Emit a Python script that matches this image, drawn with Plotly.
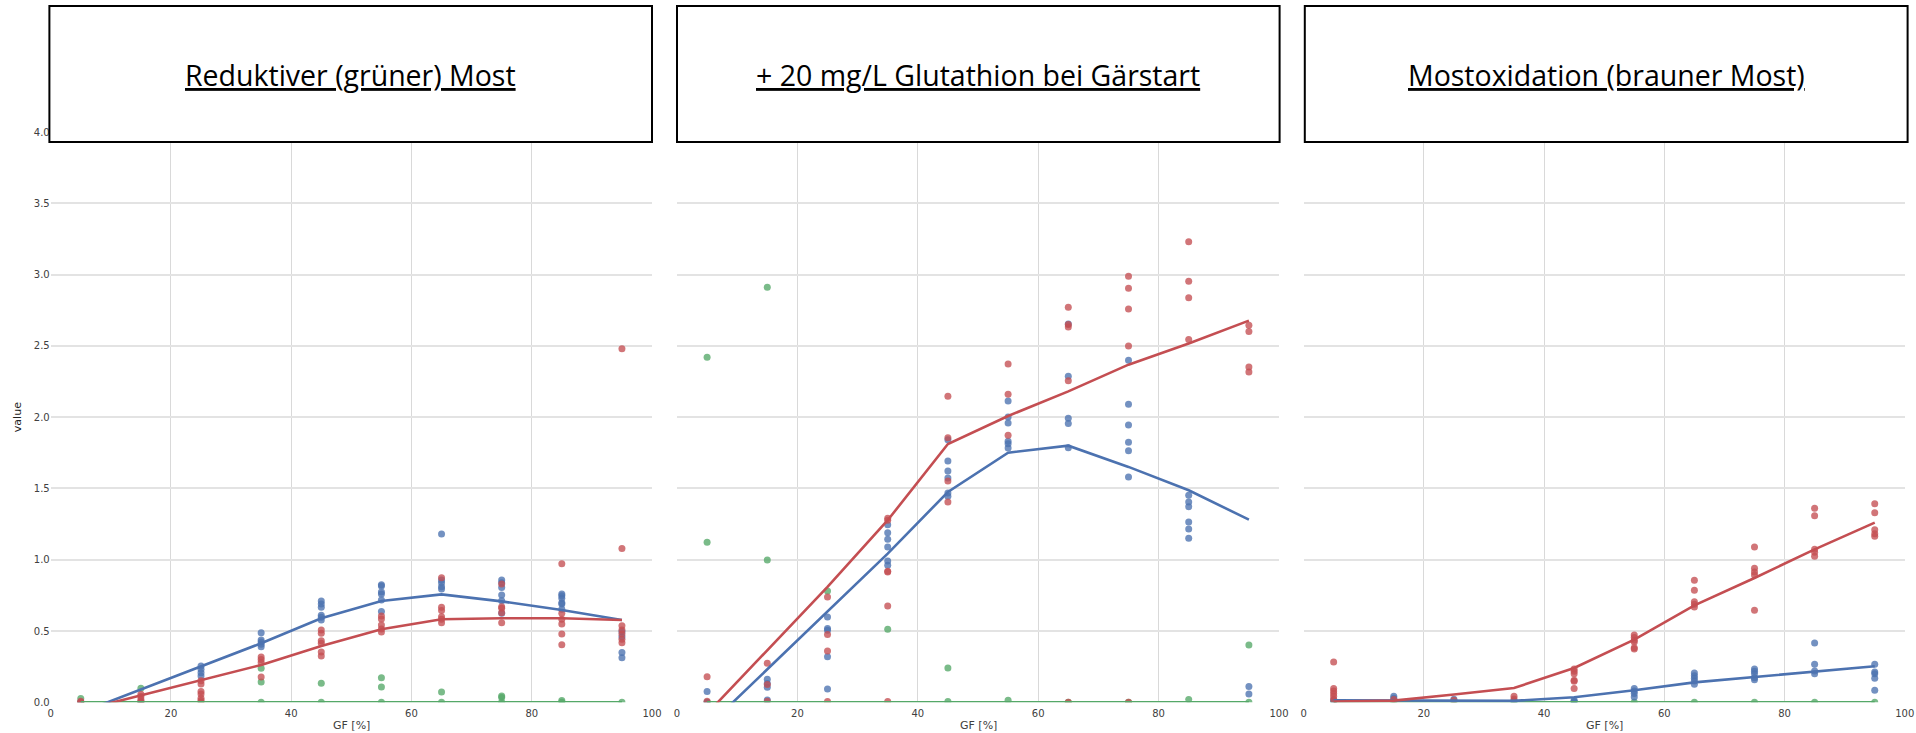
import plotly.graph_objects as go
from plotly.subplots import make_subplots

# ---------------- data ----------------
X_LEVELS = [5, 15, 25, 35, 45, 55, 65, 75, 85, 95]
TITLES = ["Reduktiver (grüner) Most", "+ 20 mg/L Glutathion bei Gärstart", "Mostoxidation (brauner Most)"]
Y_TICKS = [0.0, 0.5, 1.0, 1.5, 2.0, 2.5, 3.0, 3.5, 4.0]
X_TICKS = [0, 20, 40, 60, 80, 100]
X_TITLE = "GF [%]"
Y_TITLE = "value"

# Panel 1: Reduktiver (grüner) Most  (one list of replicate values per GF level)
P1_RED = [[0.007, 0.0], [0.056, 0.04, 0.02, 0.005], [0.152, 0.128, 0.075, 0.058, 0.028, 0.012],
          [0.318, 0.301, 0.28, 0.178], [0.507, 0.484, 0.432, 0.414, 0.353, 0.325],
          [0.605, 0.584, 0.542, 0.514, 0.493], [0.874, 0.666, 0.643, 0.6, 0.582, 0.558],
          [0.829, 0.671, 0.659, 0.628, 0.558], [0.972, 0.624, 0.582, 0.549, 0.479, 0.404],
          [2.48, 1.079, 0.537, 0.507, 0.479, 0.442, 0.418]]
P1_BLUE = [[0.0], [0.0], [0.255, 0.231, 0.208, 0.185], [0.488, 0.437, 0.423, 0.407, 0.39],
           [0.71, 0.689, 0.666, 0.61, 0.596, 0.577], [0.825, 0.815, 0.773, 0.759, 0.717, 0.636],
           [1.18, 0.857, 0.839, 0.811, 0.794], [0.857, 0.839, 0.806, 0.752, 0.712, 0.624],
           [0.759, 0.748, 0.729, 0.699, 0.689, 0.652], [0.495, 0.46, 0.35, 0.313]]
P1_GREEN = [[0.026, 0.0], [0.098, 0.0], [0.0], [0.238, 0.143, 0.0], [0.133, 0.0],
            [0.173, 0.107, 0.0], [0.072, 0.0], [0.044, 0.033, 0.0], [0.012, 0.0], [0.0]]
P1_RED_LINE = [-0.058, 0.049, 0.152, 0.262, 0.395, 0.512, 0.582, 0.589, 0.589, 0.577]
P1_BLUE_LINE = [-0.072, 0.091, 0.255, 0.414, 0.589, 0.71, 0.757, 0.708, 0.647, 0.577]
P1_GREEN_LINE = [0, 0, 0, 0, 0, 0, 0, 0, 0, 0]

# Panel 2: + 20 mg/L Glutathion bei Gärstart
P2_RED = [[0.18, 0.007], [0.274, 0.124, 0.007], [0.739, 0.475, 0.36, 0.005],
          [1.291, 1.277, 0.919, 0.914, 0.676, 0.005], [2.146, 1.856, 1.552, 1.405],
          [2.373, 2.16, 1.873], [2.771, 2.649, 2.633, 2.256, 0.0], [2.988, 2.904, 2.759, 2.499, 0.0],
          [3.231, 2.953, 2.838, 2.544], [2.644, 2.6, 2.352, 2.317]]
P2_BLUE = [[0.075, 0.0], [0.161, 0.131, 0.105, 0.016], [0.599, 0.517, 0.505, 0.32, 0.094],
           [1.246, 1.19, 1.143, 1.09, 0.991, 0.961], [1.842, 1.693, 1.623, 1.574, 1.468, 1.445],
           [2.114, 2.001, 1.959, 1.831, 1.814, 1.784], [2.654, 2.287, 1.992, 1.955, 1.786],
           [2.399, 2.09, 1.945, 1.824, 1.765, 1.581], [1.452, 1.405, 1.372, 1.265, 1.216, 1.15],
           [0.11, 0.058]]
P2_GREEN = [[2.42, 1.122, 0.0], [2.911, 0.998], [0.781], [0.512], [0.241, 0.005],
            [0.014], [0.0], [0.0], [0.019], [0.402, 0.0]]
P2_RED_LINE = [-0.079, 0.365, 0.809, 1.277, 1.812, 2.008, 2.181, 2.368, 2.516, 2.677]
P2_BLUE_LINE = [-0.174, 0.23, 0.634, 1.043, 1.475, 1.751, 1.8, 1.651, 1.487, 1.281]
P2_GREEN_LINE = [0, 0, 0, 0, 0, 0, 0, 0, 0, 0]

# Panel 3: Mostoxidation (brauner Most)
P3_RED = [[0.283, 0.096, 0.079, 0.061, 0.042, 0.021], [0.019], [0.015], [0.042, 0.023],
          [0.234, 0.217, 0.201, 0.154, 0.147, 0.096], [0.472, 0.454, 0.435, 0.423, 0.383, 0.374],
          [0.856, 0.786, 0.706, 0.687, 0.669], [1.09, 0.94, 0.914, 0.893, 0.645],
          [1.361, 1.309, 1.073, 1.052, 1.024], [1.393, 1.33, 1.211, 1.183, 1.164]]
P3_BLUE = [[0.014], [0.042, 0.028], [0.021], [0.01], [0.014, 0.005], [0.096, 0.079, 0.061, 0.037],
           [0.206, 0.187, 0.168, 0.15, 0.126], [0.234, 0.217, 0.201, 0.173, 0.159],
           [0.416, 0.267, 0.22, 0.201], [0.267, 0.213, 0.201, 0.168, 0.084]]
P3_GREEN = [[0.0], [0.0], [0.0], [0.0], [0.0], [0.0], [0.0], [0.0], [0.0], [0.0]]
P3_RED_LINE = [0.005, 0.012, 0.055, 0.1, 0.241, 0.44, 0.68, 0.872, 1.073, 1.26]
P3_BLUE_LINE = [0.014, 0.012, 0.01, 0.01, 0.035, 0.084, 0.14, 0.178, 0.215, 0.253]
P3_GREEN_LINE = [0, 0, 0, 0, 0, 0, 0, 0, 0, 0]

# ---------------- style ----------------
W, H = 1916, 733
RED, BLUE, GREEN = "#C44E52", "#4C72B0", "#55A868"
PANEL_PX = [(50.7, 652.0), (677.0, 1279.0), (1303.6, 1904.8)]
BOX_PX = [(49.4, 652.0), (677.0, 1279.6), (1304.8, 1907.6)]
PLOT_TOP, PLOT_BOTTOM = 132.0, 702.3
BOX_TOP, BOX_BOTTOM = 6.0, 142.0

def flat(groups):
    xs, ys = [], []
    for xv, vals in zip(X_LEVELS, groups):
        for v in vals:
            xs.append(xv)
            ys.append(v)
    return xs, ys

panels = [
    (P1_RED, P1_BLUE, P1_GREEN, P1_RED_LINE, P1_BLUE_LINE, P1_GREEN_LINE),
    (P2_RED, P2_BLUE, P2_GREEN, P2_RED_LINE, P2_BLUE_LINE, P2_GREEN_LINE),
    (P3_RED, P3_BLUE, P3_GREEN, P3_RED_LINE, P3_BLUE_LINE, P3_GREEN_LINE),
]

fig = make_subplots(rows=1, cols=3, shared_yaxes=True)

for i, (red, blue, green, rl, bl, gl) in enumerate(panels):
    col = i + 1
    for grp, c in ((green, GREEN), (blue, BLUE), (red, RED)):
        xs, ys = flat(grp)
        fig.add_trace(go.Scatter(x=xs, y=ys, mode="markers",
                                 marker=dict(color=c, size=7, opacity=0.78, line=dict(width=0)),
                                 showlegend=False, hoverinfo="skip"), row=1, col=col)
    for ln, c in ((gl, GREEN), (bl, BLUE), (rl, RED)):
        fig.add_trace(go.Scatter(x=X_LEVELS, y=ln, mode="lines",
                                 line=dict(color=c, width=2.6),
                                 showlegend=False, hoverinfo="skip"), row=1, col=col)

y0 = (H - PLOT_BOTTOM) / H
y1 = (H - PLOT_TOP) / H
tick_font = dict(family="DejaVu Sans", size=10, color="#404040")

for i in range(3):
    xa = "xaxis" if i == 0 else f"xaxis{i + 1}"
    ya = "yaxis" if i == 0 else f"yaxis{i + 1}"
    l, r = PANEL_PX[i]
    fig.layout[xa].update(domain=[l / W, r / W], range=[0, 100], tickvals=X_TICKS,
                          ticktext=[str(t) for t in X_TICKS], showgrid=True,
                          gridcolor="#d9d9d9", gridwidth=1, zeroline=False, showline=False,
                          ticks="", ticklabelstandoff=4, tickfont=tick_font, automargin=False)
    fig.layout[ya].update(domain=[y0, y1], range=[0, 4], tickvals=Y_TICKS,
                          ticktext=[f"{t:.1f}" for t in Y_TICKS], showgrid=True,
                          gridcolor="#e3e3e3", gridwidth=1.6, zeroline=False, showline=False,
                          ticks="", tickfont=tick_font, showticklabels=(i == 0), automargin=False)
    # x-axis title below each panel
    fig.add_annotation(xref="paper", yref="paper", x=(l + r) / 2 / W, y=(H - 725) / H,
                       text=X_TITLE, showarrow=False, xanchor="center", yanchor="middle",
                       font=dict(family="DejaVu Sans", size=11, color="#404040"))

# y-axis title
fig.add_annotation(xref="paper", yref="paper", x=17 / W, y=(H - (PLOT_TOP + PLOT_BOTTOM) / 2) / H,
                   text=Y_TITLE, textangle=-90, showarrow=False, xanchor="center", yanchor="middle",
                   font=dict(family="DejaVu Sans", size=11, color="#222222"))

# title boxes
for i in range(3):
    l, r = BOX_PX[i]
    fig.add_shape(type="rect", xref="paper", yref="paper",
                  x0=l / W, x1=r / W, y0=(H - BOX_BOTTOM) / H, y1=(H - BOX_TOP) / H,
                  fillcolor="white", line=dict(color="black", width=2), layer="above")
    fig.add_annotation(xref="paper", yref="paper", x=(l + r) / 2 / W, y=(H - 75) / H,
                       text=f"<u>{TITLES[i]}</u>", showarrow=False, xanchor="center", yanchor="middle",
                       font=dict(family="Open Sans", size=28.5, color="black"))

fig.update_layout(width=W, height=H, margin=dict(l=0, r=0, t=0, b=0, autoexpand=False),
                  paper_bgcolor="white", plot_bgcolor="white", showlegend=False)

fig.write_html("out.html")
